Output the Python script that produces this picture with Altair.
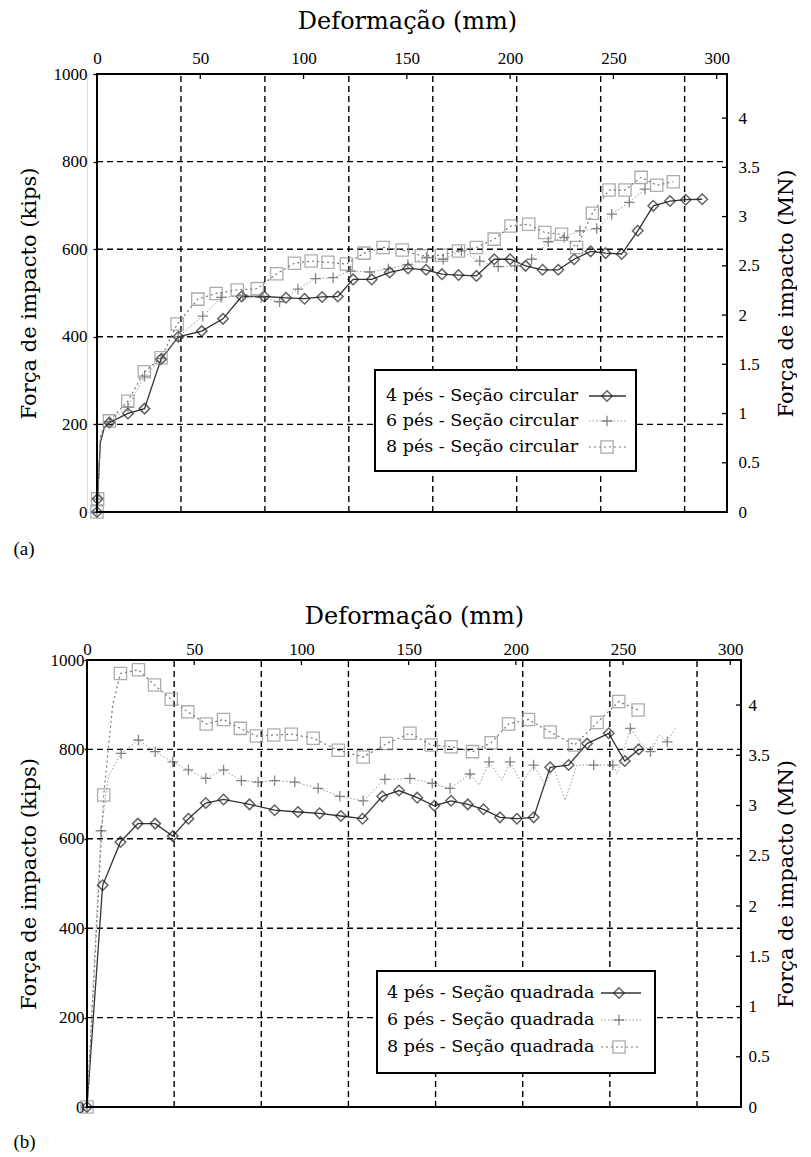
import altair as alt
import pandas as pd

# ---------------- data ----------------
# Panel (a) - circular section
A4_X = [0, 0.3, 1.6, 3.5, 6, 15, 23, 31, 39.4, 50.7, 61, 70, 81, 91.5, 100.5, 109, 116.6, 124, 133, 141.7,
        150.6, 159.3, 167, 175, 183.7, 192.3, 200, 207.5, 215.7, 223.3, 231, 239, 246.2, 254, 261.8, 269.3,
        277.4, 285, 293]
A4_Y = [0, 30, 158, 192, 204, 225, 236, 349, 400, 413, 441, 492, 492, 489, 487, 491, 492, 531, 531, 547,
        556, 553, 543, 541, 539, 577, 577, 562, 553, 553, 577, 595, 591, 589, 642, 699, 710, 713, 714]
A4_M = [1, 1, 0, 0] + [1] * 35

A6_X = [0, 0.3, 1.6, 3.5, 6, 15, 23, 31, 39.4, 51.2, 60.1, 70.6, 79.5, 88.4, 97.3, 105.8, 114.3, 122.8, 132,
        141, 150.5, 159.5, 167.6, 176.4, 185.3, 194.2, 202.3, 210.4, 218.5, 226.2, 233.8, 241.9, 249.2, 257.7,
        265.3]
A6_Y = [0, 30, 165, 195, 206, 240, 310, 350, 400, 447, 490, 495, 490, 480, 509, 533, 535, 550, 548,
        555, 565, 581, 577, 596, 573, 560, 562, 577, 617, 627, 642, 647, 680, 707, 737]
A6_M = [1, 1, 0, 0] + [1] * 31

A8_X = [0, 0.3, 1.6, 3.5, 6, 14.9, 22.9, 31, 38.8, 48.8, 57.7, 67.9, 77.6, 87, 95.6, 103.7, 111.8, 120.7,
        129.3, 138.5, 147.8, 157, 166.7, 175, 183.7, 192.3, 200.4, 209, 216.8, 224.9, 232.2, 239.8, 247.9,
        255.6, 263.4, 271, 279]
A8_Y = [0, 30, 170, 198, 208, 253, 320, 352, 429, 486, 499, 507, 510, 544, 568, 573, 570, 566, 591, 604,
        598, 585, 586, 596, 604, 623, 653, 657, 638, 634, 604, 682, 735, 735, 764, 746, 754]
A8_M = [1, 1, 0, 0] + [1] * 33

# Panel (b) - square section
B4_X = [0, 7.3, 15.6, 23.7, 31.8, 40, 47.3, 55.4, 63.7, 75.8, 87.5, 98.4, 108.5, 118.4, 128.5, 137.7, 145.5,
        154, 162, 169.8, 177.6, 184.9, 192.6, 200.5, 208.3, 216, 224.6, 233.2, 243.3, 250.8, 257.3]
B4_Y = [0, 496, 593, 634, 634, 606, 645, 680, 688, 677, 664, 660, 657, 651, 645, 695, 708, 692, 674, 685,
        677, 666, 648, 645, 648, 760, 765, 813, 836, 774, 800]
B4_M = [1] * 31

B6_X = [0, 6.5, 10, 15.9, 24, 31.8, 40, 47.3, 55.4, 63.7, 72, 79.8, 87.5, 96.9, 107.8, 117.9, 128.8, 138.9,
        150.6, 161, 169.3, 178.6, 182.9, 187.5, 193.5, 197.3, 202.8, 208.3, 213.7, 217.6, 223, 228.5, 236.3,
        245.2, 247.2, 253.4, 258.6, 262.8, 266.7, 270.6, 274.4]
B6_Y = [0, 618, 740, 791, 821, 795, 772, 754, 735, 754, 730, 727, 730, 727, 713, 695, 685, 733, 735, 724,
        713, 745, 720, 772, 731, 772, 724, 765, 720, 761, 686, 765, 765, 765, 746, 847, 813, 795, 832, 817, 847]
B6_M = [1, 1, 0, 1, 1, 1, 1, 1, 1, 1, 1, 1, 1, 1, 1, 1, 1, 1, 1, 1, 1, 1, 0, 1, 0, 1, 0, 1, 0, 0, 0, 0, 1,
        1, 0, 1, 0, 1, 0, 1, 0]

B8_X = [0, 7.8, 12, 15.6, 24, 31.5, 39.3, 47, 55.6, 63.7, 71.5, 79, 87.1, 95.3, 105.5, 117.2, 128.8, 139.7,
        150.6, 160.5, 169.8, 179.8, 188.5, 196.6, 205.9, 216, 227.4, 237.9, 248, 257]
B8_Y = [0, 698, 900, 970, 978, 944, 912, 884, 857, 867, 847, 830, 832, 834, 825, 798, 783, 813, 836, 810,
        806, 795, 815, 857, 867, 839, 810, 860, 907, 888]
B8_M = [1, 1, 0] + [1] * 27

LEG_A = ["4 pés - Seção circular", "6 pés - Seção circular", "8 pés - Seção circular"]
LEG_B = ["4 pés - Seção quadrada", "6 pés - Seção quadrada", "8 pés - Seção quadrada"]

MM_TICKS = [0, 50, 100, 150, 200, 250, 300]
GRID_MM = [40.64, 81.28, 121.92, 162.56, 203.2, 243.84, 284.48]
KIPS_TICKS = [0, 200, 400, 600, 800, 1000]
KIPS_GRID = [200, 400, 600, 800]
MN_TICKS = [0, 0.5, 1, 1.5, 2, 2.5, 3, 3.5, 4]
KIPS_PER_MN = 224.809
X_MAX = 305
Y_MAX = 1000

X_TITLE = "Deformação (mm)"
Y_TITLE = "Força de impacto (kips)"
Y2_TITLE = "Força de impacto (MN)"

SERIF = "Liberation Serif"
WIDE = "DejaVu Serif"
PLUS = "M-1,0L1,0M0,-1L0,1"

STYLES = [
    dict(line=dict(color="#333333", strokeWidth=1.3),
         pt=dict(shape="diamond", size=110, filled=False, stroke="#222222", strokeWidth=1.5)),
    dict(line=dict(color="#9a9a9a", strokeWidth=1.0, strokeDash=[1.5, 2]),
         pt=dict(shape=PLUS, size=110, filled=False, stroke="#555555", strokeWidth=1.3)),
    dict(line=dict(color="#777777", strokeWidth=1.2, strokeDash=[2, 3]),
         pt=dict(shape="square", size=150, filled=False, stroke="#8a8a8a", strokeWidth=1.3)),
]
GRID_STYLE = dict(color="black", strokeWidth=1.4, strokeDash=[6, 4])


def panel(series, labels, tag, g):
    W, H, X0 = g["W"], g["H"], g["x0"]
    pxmm = (W - X0) / X_MAX          # px per mm
    xmin = -X0 / pxmm                # frame starts X0 px right of the view origin
    xs = alt.Scale(domain=[xmin, X_MAX], nice=False, zero=False)
    ys = alt.Scale(domain=[0, Y_MAX], nice=False)
    tick_mm = 5 / pxmm
    tick_k = 5 * Y_MAX / H
    layers = []

    # vertical grid (also carries the bottom "(a)" tag)
    vg = pd.DataFrame({"g": GRID_MM, "lo": 0, "hi": Y_MAX})
    layers.append(alt.Chart(vg).mark_rule(**GRID_STYLE).encode(
        x=alt.X("g:Q", scale=xs, axis=alt.Axis(
            orient="bottom", labels=False, ticks=False, domain=False, grid=False,
            title=tag, titleX=g["tagX"], titleY=g["tagY"], titleAlign="left", titleBaseline="middle",
            titleFontSize=19, titleFont=SERIF, titleFontWeight="normal", titleColor="black")),
        y=alt.Y("lo:Q", scale=ys, axis=None), y2="hi:Q"))

    # horizontal grid (also carries the left kips axis)
    hg = pd.DataFrame({"v": KIPS_GRID, "lo": 0, "hi": X_MAX})
    layers.append(alt.Chart(hg).mark_rule(**GRID_STYLE).encode(
        y=alt.Y("v:Q", scale=ys, axis=alt.Axis(
            orient="left", offset=-X0, values=KIPS_TICKS, grid=False, domain=False, format="d",
            tickColor="black", tickSize=g["ltick"], tickWidth=1.3, labelPadding=g["lpad"],
            labelFont=SERIF, labelFontSize=17, labelColor="black",
            title=Y_TITLE, titleX=g["ltx"], titleY=H / 2, titleAngle=270, titleBaseline="middle",
            titleAlign="center", titleFont=WIDE, titleFontSize=21, titleFontWeight="normal",
            titleColor="black")),
        x=alt.X("lo:Q", scale=xs, axis=None), x2="hi:Q"))

    for i, (xv, yv, mv) in enumerate(series):
        df = pd.DataFrame({"x": xv, "y": yv, "m": mv})
        layers.append(alt.Chart(df).mark_line(**STYLES[i]["line"]).encode(
            x=alt.X("x:Q", scale=xs, axis=None), y=alt.Y("y:Q", scale=ys, axis=None)))
    for i, (xv, yv, mv) in enumerate(series):
        df = pd.DataFrame({"x": xv, "y": yv, "m": mv})
        layers.append(alt.Chart(df).transform_filter("datum.m == 1").mark_point(**STYLES[i]["pt"]).encode(
            x=alt.X("x:Q", scale=xs, axis=None), y=alt.Y("y:Q", scale=ys, axis=None)))

    # top axis (mm) with inward ticks
    tt = pd.DataFrame({"x": MM_TICKS, "lo": Y_MAX - tick_k, "hi": Y_MAX})
    layers.append(alt.Chart(tt).mark_rule(color="black", strokeWidth=1.3).encode(
        x=alt.X("x:Q", scale=xs, axis=alt.Axis(
            orient="top", values=MM_TICKS, ticks=False, domain=False, grid=False, labelFlush=False,
            labelFont=SERIF, labelFontSize=17, labelColor="black", labelPadding=g["tpad"],
            title=X_TITLE, titleFont=WIDE, titleFontSize=24, titleFontWeight="normal",
            titleColor="black", titlePadding=g["ttp"])),
        y=alt.Y("lo:Q", scale=ys, axis=None), y2="hi:Q"))

    # right axis (MN) on the same kips scale, inward ticks
    mn_vals = [m * KIPS_PER_MN for m in MN_TICKS]
    rt = pd.DataFrame({"v": mn_vals, "lo": X_MAX - tick_mm, "hi": X_MAX})
    layers.append(alt.Chart(rt).mark_rule(color="black", strokeWidth=1.3).encode(
        y=alt.Y("v:Q", scale=ys, axis=alt.Axis(
            orient="right", values=mn_vals, ticks=False, domain=False, grid=False,
            labelExpr="'' + round(datum.value / 224.809 * 2) / 2",
            labelFont=SERIF, labelFontSize=17, labelColor="black", labelPadding=g["rpad"],
            title=Y2_TITLE, titleX=g["rtx"], titleY=H / 2, titleAngle=270, titleBaseline="middle",
            titleAlign="center", titleFont=WIDE, titleFontSize=21, titleFontWeight="normal",
            titleColor="black")),
        x=alt.X("lo:Q", scale=xs, axis=None), x2="hi:Q"))

    # plot frame
    fr = pd.DataFrame({"x": [0], "x2": [X_MAX], "y": [0], "y2": [Y_MAX]})
    layers.append(alt.Chart(fr).mark_rect(fill="transparent", stroke="black", strokeWidth=2).encode(
        x=alt.X("x:Q", scale=xs, axis=None), x2="x2:Q", y=alt.Y("y:Q", scale=ys, axis=None), y2="y2:Q"))

    # legend box (decoration)
    L = g["leg"]
    one = pd.DataFrame({"k": [0]})
    layers.append(alt.Chart(one).mark_rect(fill="white", stroke="black", strokeWidth=2).encode(
        x=alt.value(L["x0"]), x2=alt.value(L["x1"]), y=alt.value(L["y0"]), y2=alt.value(L["y1"])))
    for i, lab in enumerate(labels):
        yy = L["rows"][i]
        layers.append(alt.Chart(one).mark_text(font=WIDE, fontSize=17.5, align="left", baseline="middle",
                                               color="black").encode(
            x=alt.value(L["tx"]), y=alt.value(yy), text=alt.value(lab)))
        layers.append(alt.Chart(one).mark_rule(**STYLES[i]["line"]).encode(
            x=alt.value(L["s0"]), x2=alt.value(L["s1"]), y=alt.value(yy)))
        layers.append(alt.Chart(one).mark_point(**STYLES[i]["pt"]).encode(
            x=alt.value(L["sm"]), y=alt.value(yy)))

    return alt.layer(*layers).resolve_axis(x="independent", y="independent").properties(width=W, height=H)


# geometry: both panels share the same left origin (page x=86); panel (a)'s frame starts 10px further right
GA = dict(W=640, H=438, x0=10, tagX=-74, tagY=36, ltx=-68, rtx=59, ltick=4, lpad=6, rpad=11, tpad=7, ttp=16,
          leg=dict(x0=288, x1=549, y0=296, y1=397, tx=299, rows=[322, 347, 373], s0=502, s1=539, sm=520))
GB = dict(W=654, H=447, x0=0, tagX=-74, tagY=34, ltx=-58, rtx=45, ltick=3, lpad=0, rpad=7, tpad=2, ttp=12,
          leg=dict(x0=290, x1=568, y0=311, y1=413, tx=300, rows=[333, 360, 387], s0=514, s1=554, sm=532))

pa = panel([(A4_X, A4_Y, A4_M), (A6_X, A6_Y, A6_M), (A8_X, A8_Y, A8_M)], LEG_A, "(a)", GA)
pb = panel([(B4_X, B4_Y, B4_M), (B6_X, B6_Y, B6_M), (B8_X, B8_Y, B8_M)], LEG_B, "(b)", GB)

chart = alt.vconcat(pa, pb, spacing=44).properties(
    padding={"left": 4, "top": 0, "right": 0, "bottom": 0}
).configure_view(stroke="transparent", strokeWidth=0).configure(background="white")

chart.save("out.html", embed_options={"renderer": "svg", "actions": False})
